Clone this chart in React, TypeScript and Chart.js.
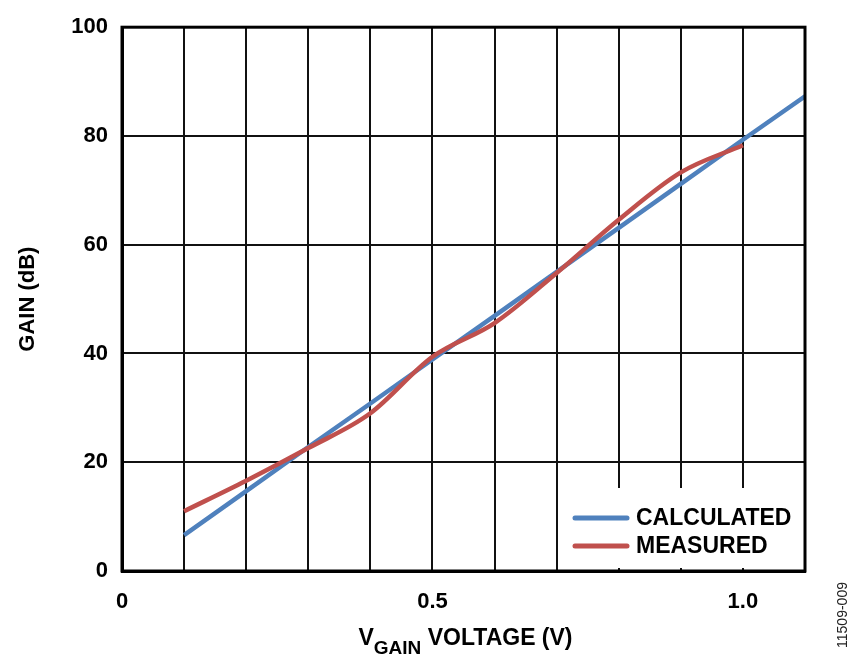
import React, { useEffect, useRef } from "react";
import { Chart, registerables } from "chart.js";

Chart.register(...registerables);

// ---- data ----
const voltages: number[] = [0.1, 0.2, 0.3, 0.4, 0.5, 0.6, 0.7, 0.8, 0.9, 1.0, 1.1];
const calculatedGain: number[] = [6.6, 14.7, 22.8, 30.8, 38.9, 46.9, 55.0, 63.1, 71.2, 79.3, 87.3];
const measuredVoltages: number[] = [0.1, 0.2, 0.3, 0.4, 0.5, 0.6, 0.7, 0.8, 0.9, 1.0];
const measuredGain: number[] = [11.0, 16.6, 22.6, 29.0, 39.4, 45.6, 54.8, 64.6, 73.3, 78.3];
const seriesLabels: string[] = ["CALCULATED", "MEASURED"];
const xTickLabels: number[] = [0, 0.5, 1.0];
const yTitle = "GAIN (dB)";
const xTitleMain = "V";
const xTitleSub = "GAIN";
const xTitleRest = " VOLTAGE (V)";
const figureId = "11509-009";

const BLUE = "#4F81BD";
const RED = "#C0504D";
const FONT = "'Liberation Sans', Arial, sans-serif";

const overlayPlugin = {
  id: "overlay",
  afterDatasetsDraw(chart: any) {
    const ctx = chart.ctx;
    const { right, bottom } = chart.chartArea;
    // legend box
    ctx.save();
    ctx.fillStyle = "#fff";
    ctx.fillRect(560, 488, right - 560, bottom - 3 - 488);
    const ys = [518, 546];
    chart.data.datasets.forEach((ds: any, i: number) => {
      ctx.strokeStyle = ds.borderColor;
      ctx.lineWidth = 5;
      ctx.lineCap = "round";
      ctx.beginPath();
      ctx.moveTo(575, ys[i]);
      ctx.lineTo(627, ys[i]);
      ctx.stroke();
      ctx.fillStyle = "#000";
      ctx.font = `bold 23px ${FONT}`;
      ctx.textAlign = "left";
      ctx.textBaseline = "middle";
      ctx.fillText(ds.label, 636, ys[i] + 1);
    });
    ctx.restore();
  },
  afterDraw(chart: any) {
    const ctx = chart.ctx;
    const { left, right, top, bottom } = chart.chartArea;
    ctx.save();
    // frame
    ctx.strokeStyle = "#000";
    ctx.lineWidth = 3;
    ctx.strokeRect(left, top, right - left, bottom - top);

    // x title with subscript
    ctx.fillStyle = "#000";
    ctx.textBaseline = "alphabetic";
    const mainFont = `bold 23px ${FONT}`;
    const subFont = `bold 19px ${FONT}`;
    ctx.font = mainFont;
    const w1 = ctx.measureText(xTitleMain).width;
    const w3 = ctx.measureText(xTitleRest).width;
    ctx.font = subFont;
    const w2 = ctx.measureText(xTitleSub).width;
    const total = w1 + w2 + w3;
    let x = (left + right) / 2 + 2 - total / 2;
    const baseY = 645;
    ctx.textAlign = "left";
    ctx.font = mainFont;
    ctx.fillText(xTitleMain, x, baseY);
    x += w1;
    ctx.font = subFont;
    ctx.fillText(xTitleSub, x, baseY + 9);
    x += w2;
    ctx.font = mainFont;
    ctx.fillText(xTitleRest, x, baseY);

    // y title
    ctx.save();
    ctx.translate(34, (top + bottom) / 2);
    ctx.rotate(-Math.PI / 2);
    ctx.textAlign = "center";
    ctx.font = `bold 22px ${FONT}`;
    ctx.fillText(yTitle, 0, 0);
    ctx.restore();

    // figure id
    ctx.save();
    ctx.translate(847, 615);
    ctx.rotate(-Math.PI / 2);
    ctx.textAlign = "center";
    ctx.fillStyle = "#222";
    ctx.font = `14px ${FONT}`;
    ctx.fillText(figureId, 0, 0);
    ctx.restore();

    ctx.restore();
  },
};

export default function App() {
  const canvasRef = useRef<HTMLCanvasElement | null>(null);

  useEffect(() => {
    if (!canvasRef.current) return;
    const chart = new Chart(canvasRef.current, {
      type: "line",
      data: {
        datasets: [
          {
            label: seriesLabels[0],
            data: voltages.map((v, i) => ({ x: v, y: calculatedGain[i] })),
            borderColor: BLUE,
            backgroundColor: BLUE,
            borderWidth: 4.5,
            pointRadius: 0,
            tension: 0,
            order: 1,
          },
          {
            label: seriesLabels[1],
            data: measuredVoltages.map((v, i) => ({ x: v, y: measuredGain[i] })),
            borderColor: RED,
            backgroundColor: RED,
            borderWidth: 4.5,
            pointRadius: 0,
            cubicInterpolationMode: "monotone",
            order: 0,
          },
        ],
      },
      options: {
        animation: false,
        responsive: false,
        devicePixelRatio: 1,
        layout: { padding: { left: 0, right: 57, top: 26, bottom: 0 } },
        plugins: {
          legend: { display: false },
          tooltip: { enabled: false },
        },
        scales: {
          x: {
            type: "linear",
            min: 0,
            max: 1.1,
            afterFit: (s: any) => {
              s.height = 99;
            },
            border: { display: true, color: "#000", width: 3 },
            grid: { color: "#111", lineWidth: 2, drawTicks: false },
            ticks: {
              stepSize: 0.1,
              autoSkip: false,
              maxRotation: 0,
              padding: 18,
              color: "#000",
              font: { family: FONT, size: 22, weight: "bold" },
              callback: (value: any) => {
                const v = Math.round(Number(value) * 10) / 10;
                const hit = xTickLabels.find((t) => Math.abs(t - v) < 1e-6);
                if (hit === undefined) return "";
                return hit === 0 ? "0" : hit.toFixed(1);
              },
            },
          },
          y: {
            type: "linear",
            min: 0,
            max: 100,
            afterFit: (s: any) => {
              s.width = 122;
            },
            border: { display: true, color: "#000", width: 3 },
            grid: { color: "#111", lineWidth: 2, drawTicks: false },
            ticks: {
              stepSize: 20,
              padding: 14,
              color: "#000",
              font: { family: FONT, size: 22, weight: "bold" },
            },
          },
        },
      },
      plugins: [overlayPlugin],
    });
    return () => chart.destroy();
  }, []);

  return (
    <div style={{ position: "absolute", left: 0, top: 0, width: 862, height: 670, background: "#fff" }}>
      <canvas ref={canvasRef} width={862} height={670} style={{ width: 862, height: 670, display: "block" }} />
    </div>
  );
}
